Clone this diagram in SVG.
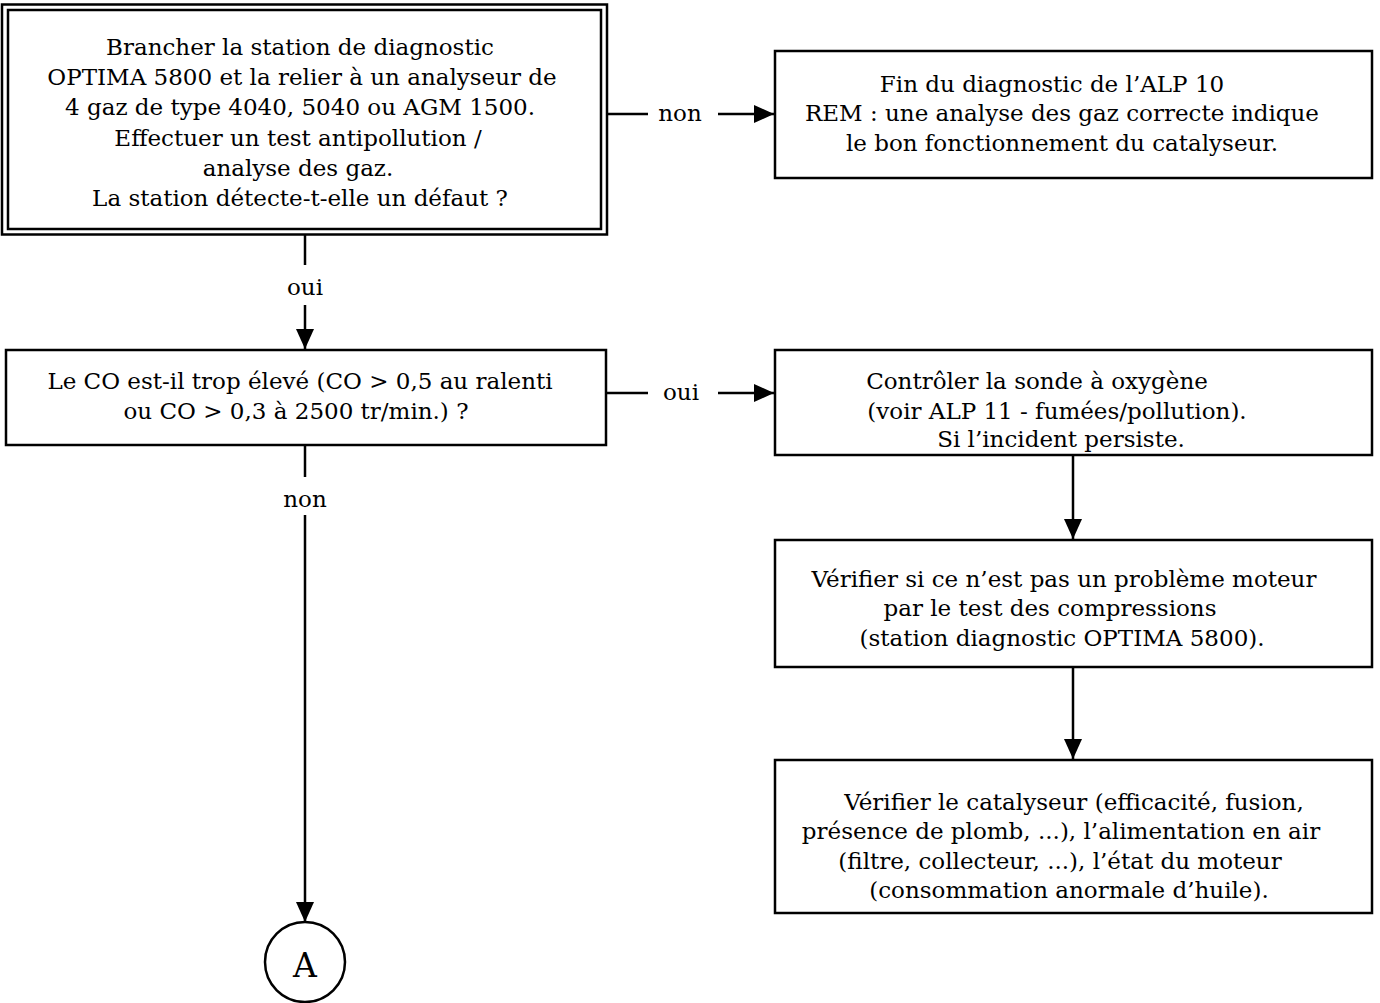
<svg xmlns="http://www.w3.org/2000/svg" width="1380" height="1003" viewBox="0 0 1380 1003">
<style>
.box{fill:#fff;stroke:#000;stroke-width:2.5}
.ln{fill:none;stroke:#000;stroke-width:2.5}
text{font-family:"DejaVu Serif","Liberation Serif",serif;font-size:23px;fill:#000;text-anchor:middle}
</style>
<defs>
<marker id="ah" markerUnits="userSpaceOnUse" markerWidth="20" markerHeight="18" refX="20" refY="9" orient="auto">
<path d="M0,0 L20,9 L0,18 Z" fill="#000"/>
</marker>
</defs>
<rect width="1380" height="1003" fill="#fff"/>
<g id="n1">
<rect class="box" x="2" y="4.5" width="605" height="230"/>
<rect class="box" x="8" y="10" width="593" height="219"/>
<text x="300" y="55">Brancher la station de diagnostic</text>
<text x="302" y="85">OPTIMA 5800 et la relier à un analyseur de</text>
<text x="300" y="115">4 gaz de type 4040, 5040 ou AGM 1500.</text>
<text x="298" y="146">Effectuer un test antipollution /</text>
<text x="298" y="176">analyse des gaz.</text>
<text x="300" y="206">La station détecte-t-elle un défaut ?</text>
</g>
<g id="n2">
<rect class="box" x="775" y="51" width="597" height="127"/>
<text x="1052" y="92">Fin du diagnostic de l’ALP 10</text>
<text x="1062" y="121">REM : une analyse des gaz correcte indique</text>
<text x="1062" y="151">le bon fonctionnement du catalyseur.</text>
</g>
<g id="n3">
<rect class="box" x="6" y="350" width="600" height="95"/>
<text x="300" y="389">Le CO est-il trop élevé (CO &gt; 0,5 au ralenti</text>
<text x="296" y="419">ou CO &gt; 0,3 à 2500 tr/min.) ?</text>
</g>
<g id="n4">
<rect class="box" x="775" y="350" width="597" height="105"/>
<text x="1037" y="389">Contrôler la sonde à oxygène</text>
<text x="1057" y="419">(voir ALP 11 - fumées/pollution).</text>
<text x="1061" y="447">Si l’incident persiste.</text>
</g>
<g id="n5">
<rect class="box" x="775" y="540" width="597" height="127"/>
<text x="1064" y="587">Vérifier si ce n’est pas un problème moteur</text>
<text x="1050" y="616">par le test des compressions</text>
<text x="1062" y="646">(station diagnostic OPTIMA 5800).</text>
</g>
<g id="n6">
<rect class="box" x="775" y="760" width="597" height="153"/>
<text x="1074" y="810">Vérifier le catalyseur (efficacité, fusion,</text>
<text x="1061" y="839">présence de plomb, ...), l’alimentation en air</text>
<text x="1060" y="869">(filtre, collecteur, ...), l’état du moteur</text>
<text x="1069" y="898">(consommation anormale d’huile).</text>
</g>
<g id="nA">
<circle class="box" cx="305" cy="962" r="40"/>
<text x="305" y="977" style="font-size:33px">A</text>
</g>
<g id="connectors">
<line class="ln" x1="607" y1="114" x2="648" y2="114"/>
<line class="ln" x1="718" y1="114" x2="774" y2="114" marker-end="url(#ah)"/>
<text x="680" y="121">non</text>
<line class="ln" x1="606" y1="393" x2="648" y2="393"/>
<line class="ln" x1="718" y1="393" x2="774" y2="393" marker-end="url(#ah)"/>
<text x="681" y="400">oui</text>
<line class="ln" x1="305" y1="235" x2="305" y2="265"/>
<line class="ln" x1="305" y1="305" x2="305" y2="349" marker-end="url(#ah)"/>
<text x="305" y="295">oui</text>
<line class="ln" x1="305" y1="445" x2="305" y2="477"/>
<line class="ln" x1="305" y1="515" x2="305" y2="922" marker-end="url(#ah)"/>
<text x="305" y="507">non</text>
<line class="ln" x1="1073" y1="455" x2="1073" y2="539" marker-end="url(#ah)"/>
<line class="ln" x1="1073" y1="667" x2="1073" y2="759" marker-end="url(#ah)"/>
</g>
</svg>
